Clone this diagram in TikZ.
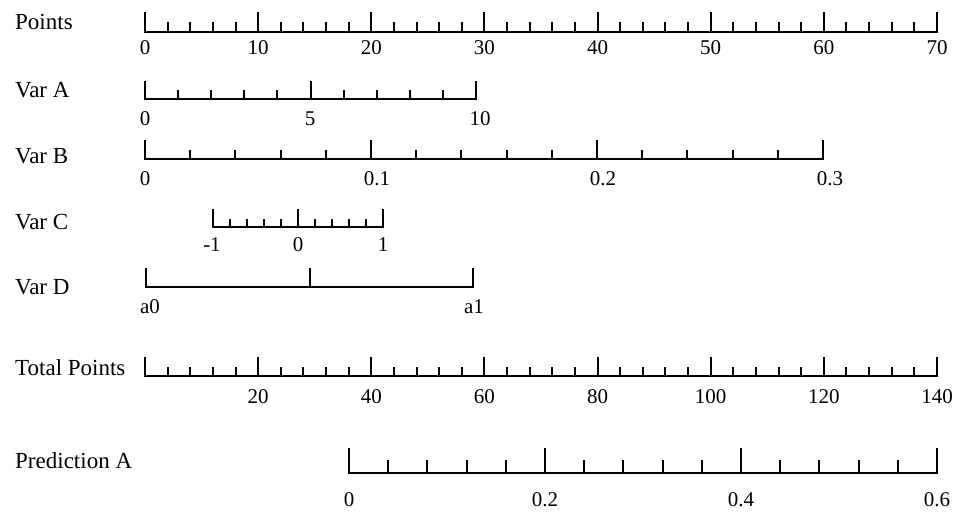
\documentclass[tikz,border=0pt]{standalone}
\usepackage{fontspec}
\setmainfont{Liberation Serif}
\usepackage{tikz}
\usetikzlibrary{positioning}
\newcommand{\rowfont}{\fontsize{23}{27}\selectfont}
\newcommand{\numfont}{\fontsize{21}{25}\selectfont}

\begin{document}
\begin{tikzpicture}[x=1pt, y=-1pt,
  rowlab/.style={anchor=base west, inner sep=0pt, font=\rowfont},
  ticklab/.style={anchor=base, inner sep=0pt, font=\numfont},
  axisline/.style={line width=2.1pt, line cap=rect},
  tickmark/.style={line width=2pt}]
\useasboundingbox (0,0) rectangle (969,527);

% Row names
\node[rowlab] (points) at (15,30) {Points};
\node[rowlab] (vara) at (15,97) {Var A};
\node[rowlab] (varb) at (15,163) {Var B};
\node[rowlab] (varc) at (15,229) {Var C};
\node[rowlab] (vard) at (15,294) {Var D};
\node[rowlab] (total) at (15,375) {Total Points};
\node[rowlab] (pred) at (15,468) {Prediction A};

% Points scale
\draw[axisline] (145,32) -- (937,32);
\foreach \i in {0,...,35} \draw[tickmark] ({145+\i*22.6286},32) -- ++(0,-10);
\foreach \i in {0,...,7} \draw[tickmark] ({145+\i*113.143},32) -- ++(0,-20);
\foreach \v [count=\k from 0] in {0,10,...,70}
  \node[ticklab] (pt\v) at ({145+\k*113.143},55) {\v};

% Var A scale
\draw[axisline] (145,99) -- (476,99);
\foreach \i in {0,...,10} \draw[tickmark] ({145+\i*33.1},99) -- ++(0,-9);
\foreach \i in {0,...,2} \draw[tickmark] ({145+\i*165.5},99) -- ++(0,-18);
\node[ticklab] (a0) at (145,125) {0};
\node[ticklab] (a5) at (310,125) {5};
\node[ticklab] (a10) at (480,125) {10};

% Var B scale
\draw[axisline] (145,159) -- (823,159);
\foreach \i in {0,...,15} \draw[tickmark] ({145+\i*45.2},159) -- ++(0,-9);
\foreach \i in {0,...,3} \draw[tickmark] ({145+\i*226},159) -- ++(0,-19);
\node[ticklab] (b0) at (145,185) {0};
\node[ticklab] (b1) at (377,185) {0.1};
\node[ticklab] (b2) at (603,185) {0.2};
\node[ticklab] (b3) at (830,185) {0.3};

% Var C scale
\draw[axisline] (213,227) -- (383,227);
\foreach \i in {0,...,10} \draw[tickmark] ({213+\i*17},227) -- ++(0,-8);
\foreach \i in {0,...,2} \draw[tickmark] ({213+\i*85},227) -- ++(0,-18);
\node[ticklab] (cm1) at (212,251) {-1};
\node[ticklab] (c0) at (298,251) {0};
\node[ticklab] (c1) at (383,251) {1};

% Var D scale
\draw[axisline] (146,287) -- (473,287);
\foreach \x in {146,310,473} \draw[tickmark] (\x,287) -- ++(0,-19);
\node[ticklab] (d0) at (150,313) {a0};
\node[ticklab] (d1) at (474,313) {a1};

% Total Points scale
\draw[axisline] (145,376) -- (937,376);
\foreach \i in {0,...,35} \draw[tickmark] ({145+\i*22.6286},376) -- ++(0,-9.5);
\foreach \i in {0,...,7} \draw[tickmark] ({145+\i*113.143},376) -- ++(0,-19);
\foreach \v [count=\k] in {20,40,...,140}
  \node[ticklab] (tp\v) at ({145+\k*113.143},403) {\v};

% Prediction A scale
\draw[axisline] (349,473) -- (937,473);
\foreach \i in {0,...,15} \draw[tickmark] ({349+\i*39.2},473) -- ++(0,-13);
\foreach \i in {0,...,3} \draw[tickmark] ({349+\i*196},473) -- ++(0,-25.5);
\node[ticklab] (pr0) at (349,506) {0};
\node[ticklab] (pr2) at (545,506) {0.2};
\node[ticklab] (pr4) at (741,506) {0.4};
\node[ticklab] (pr6) at (937,506) {0.6};
\end{tikzpicture}
\end{document}
